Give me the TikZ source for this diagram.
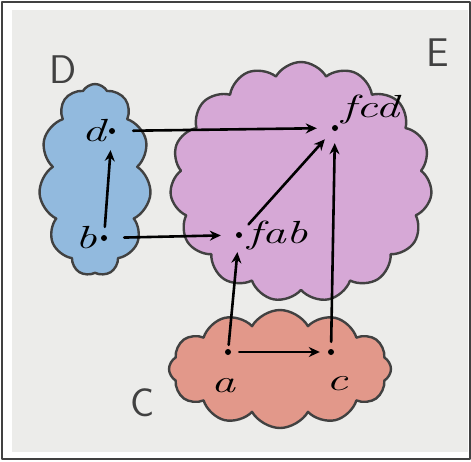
\documentclass[tikz,border=0pt]{standalone}
\usepackage{fontspec}
\usetikzlibrary{shapes.symbols,positioning,arrows.meta}
\definecolor{paper}{RGB}{236,236,234}
\definecolor{inkgray}{RGB}{65,65,65}
\definecolor{blueD}{RGB}{146,186,222}
\definecolor{pinkE}{RGB}{214,168,214}
\definecolor{redC}{RGB}{226,152,138}
\newcommand{\hand}[1]{\scalebox{1.5}[1]{#1}}
\tikzset{
	blob/.style={cloud, cloud ignores aspect, draw=inkgray, line width=2.4pt, inner sep=0pt},
	pt/.style={circle, fill=black, inner sep=0pt, minimum size=6pt},
	lbl/.style={inner sep=1pt, font=\fontsize{32}{34}\selectfont\itshape},
	setname/.style={text=inkgray, font=\fontsize{40}{42}\selectfont\sffamily},
	arr/.style={-{Stealth[length=11pt,width=10pt]}, line width=2.6pt, shorten >=12pt, shorten <=8pt}
}
\begin{document}
\begin{tikzpicture}[x=1pt, y=-1pt, line join=round, line cap=round]
	\useasboundingbox (0,0) rectangle (471,461);
	\draw[inkgray, line width=1.5pt, fill=white] (2,2) rectangle (470,459);
	\fill[paper] (12,10) rectangle (468,452);
	% the three clouds
	\node[blob, fill=blueD, minimum width=112pt, minimum height=192pt, cloud puffs=11, cloud puff arc=120] (cD) at (95,180) {};
	\node[blob, fill=pinkE, minimum width=262pt, minimum height=240pt, cloud puffs=15, cloud puff arc=120] (cE) at (301,182) {};
	\node[blob, fill=redC, minimum width=222pt, minimum height=118pt, cloud puffs=12, cloud puff arc=120] (cC) at (280,369) {};
	\node[setname] (nD) at (63,70) {D};
	\node[setname] (nE) at (438,53) {E};
	\node[setname] (nC) at (143,403) {C};
	% points
	\node[pt] (d) at (112,131) {};
	\node[pt] (b) at (104,238) {};
	\node[pt] (fcd) at (335,128) {};
	\node[pt] (fab) at (239,235) {};
	\node[pt] (a) at (228,352) {};
	\node[pt] (c) at (331,352) {};
	\node[lbl, left=2pt of d] (ld) {\hand{d}};
	\node[lbl, left=3pt of b] (lb) {\hand{b}};
	\node[lbl, above right=1pt and 3pt of fcd] (lfcd) {\hand{fcd}};
	\node[lbl, right=4pt of fab] (lfab) {\hand{fab}};
	\node[lbl, below=22pt of a, xshift=-5pt] (la) {\hand{a}};
	\node[lbl, below=20pt of c, xshift=6pt] (lc) {\hand{c}};
	% arrows
	\draw[arr, shorten <=18pt, shorten >=15pt] (d) -- (fcd);
	\draw[arr, shorten >=16pt] (b) -- (d);
	\draw[arr, shorten <=17pt, shorten >=15pt] (b) -- (fab);
	\draw[arr, shorten <=11pt] (fab) -- (fcd);
	\draw[arr, shorten <=4pt, shorten >=14pt] (a) -- (fab);
	\draw[arr, shorten <=7pt] (c) -- (fcd);
	\draw[arr, shorten >=8pt] (a) -- (c);
\end{tikzpicture}
\end{document}
